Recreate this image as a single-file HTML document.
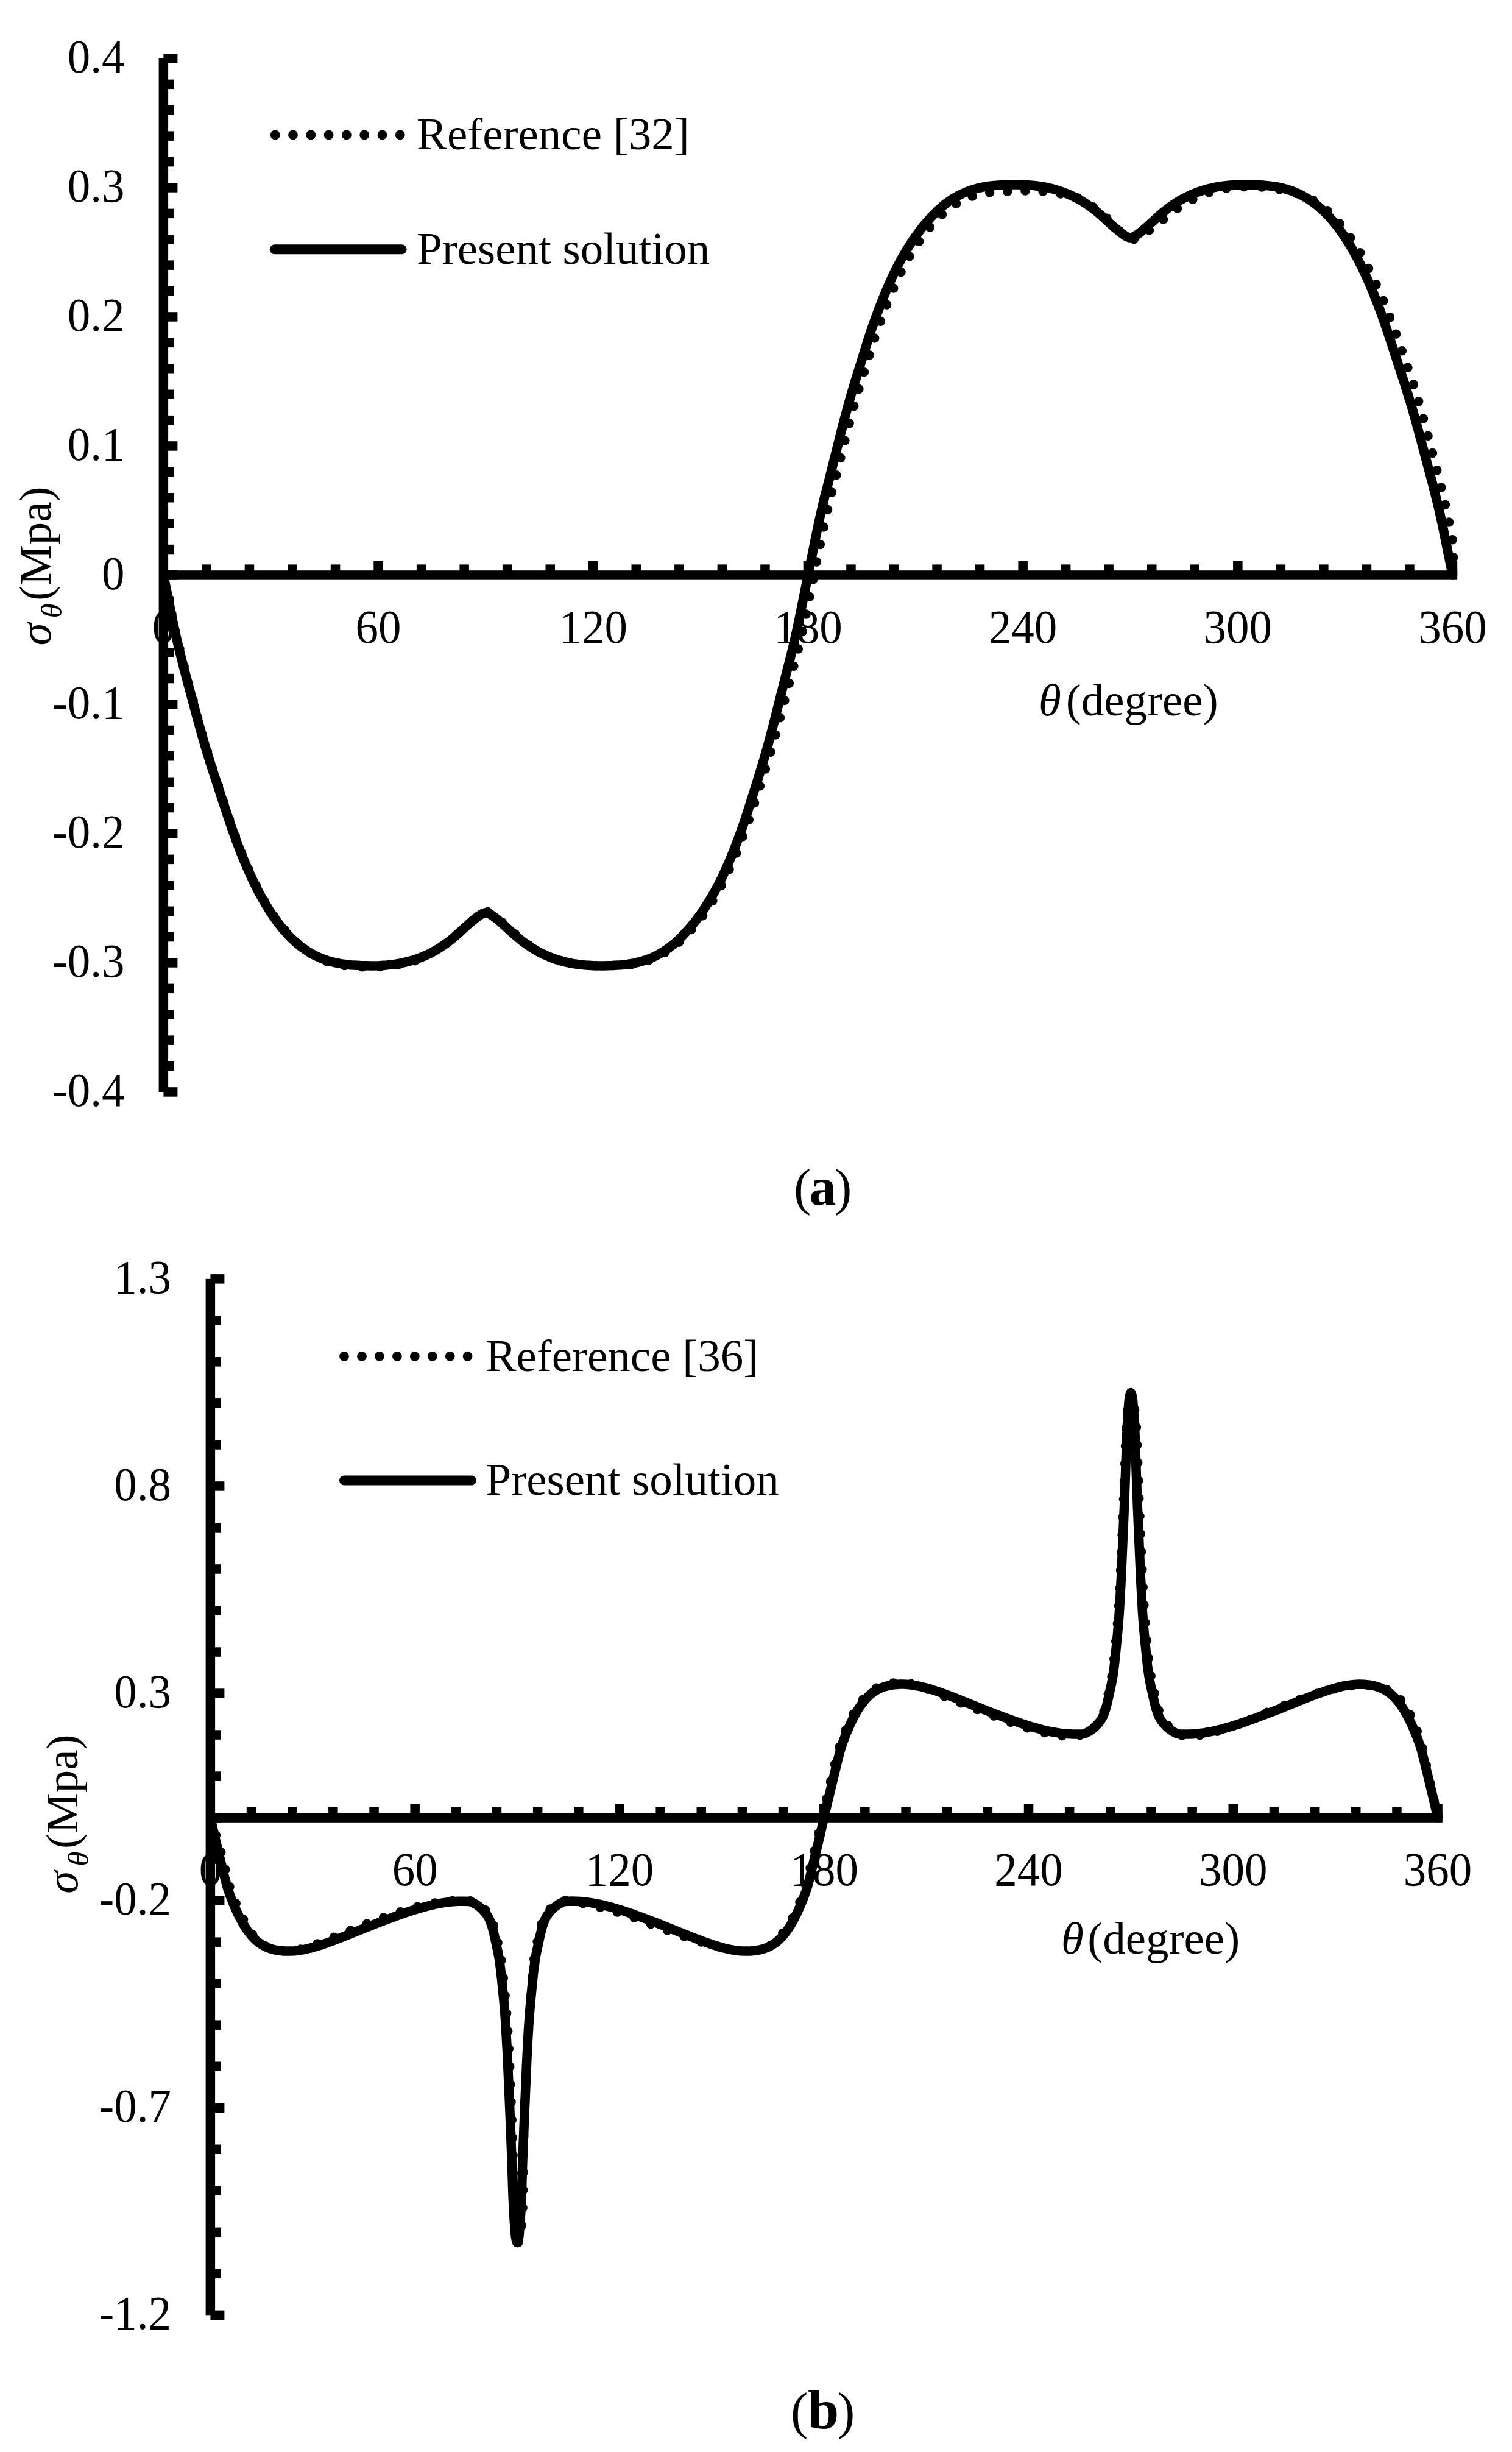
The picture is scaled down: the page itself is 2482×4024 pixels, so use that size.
<!DOCTYPE html>
<html lang="en"><head><meta charset="utf-8"><title>Hoop stress comparison</title>
<style>html,body{margin:0;padding:0;background:#fff}svg{display:block}text{font-family:"Liberation Serif", "DejaVu Serif", serif;font-size:75px;fill:#000}</style></head><body>
<svg width="2482" height="4024" viewBox="0 0 2482 4024">
<rect width="2482" height="4024" fill="#fff"/>
<text transform="translate(204.5 119.0) scale(1 1.045)" text-anchor="end">0.4</text>
<text transform="translate(204.5 331.0) scale(1 1.045)" text-anchor="end">0.3</text>
<text transform="translate(204.5 543.0) scale(1 1.045)" text-anchor="end">0.2</text>
<text transform="translate(204.5 755.0) scale(1 1.045)" text-anchor="end">0.1</text>
<text transform="translate(204.5 967.0) scale(1 1.045)" text-anchor="end">0</text>
<text transform="translate(204.5 1179.0) scale(1 1.045)" text-anchor="end">-0.1</text>
<text transform="translate(204.5 1391.0) scale(1 1.045)" text-anchor="end">-0.2</text>
<text transform="translate(204.5 1603.0) scale(1 1.045)" text-anchor="end">-0.3</text>
<text transform="translate(204.5 1815.0) scale(1 1.045)" text-anchor="end">-0.4</text>
<text transform="translate(268.4 1054.5) scale(1 1.045)" text-anchor="middle">0</text>
<text transform="translate(621.1 1054.5) scale(1 1.045)" text-anchor="middle">60</text>
<text transform="translate(973.8 1054.5) scale(1 1.045)" text-anchor="middle">120</text>
<text transform="translate(1326.4 1054.5) scale(1 1.045)" text-anchor="middle">180</text>
<text transform="translate(1679.1 1054.5) scale(1 1.045)" text-anchor="middle">240</text>
<text transform="translate(2031.8 1054.5) scale(1 1.045)" text-anchor="middle">300</text>
<text transform="translate(2384.5 1054.5) scale(1 1.045)" text-anchor="middle">360</text>
<text transform="translate(82.5 1059.5) rotate(-90)"><tspan font-style="italic">σ</tspan><tspan font-style="italic" font-size="49" dx="8" dy="18">θ</tspan><tspan dx="4.6" dy="-18">(Mpa)</tspan></text>
<text x="1705.0" y="1174.0"><tspan font-style="italic">θ</tspan><tspan dx="8.0">(degree)</tspan></text>
<g fill="#000">
<rect x="260.6" y="96.0" width="15.5" height="1696.0"/>
<rect x="268.4" y="936.2" width="2123.8" height="15.5"/>
<rect x="268.4" y="88.2" width="23.0" height="15.5"/>
<rect x="268.4" y="130.6" width="17.6" height="15.5"/>
<rect x="268.4" y="173.0" width="17.6" height="15.5"/>
<rect x="268.4" y="215.4" width="17.6" height="15.5"/>
<rect x="268.4" y="257.9" width="17.6" height="15.5"/>
<rect x="268.4" y="300.2" width="23.0" height="15.5"/>
<rect x="268.4" y="342.6" width="17.6" height="15.5"/>
<rect x="268.4" y="385.0" width="17.6" height="15.5"/>
<rect x="268.4" y="427.4" width="17.6" height="15.5"/>
<rect x="268.4" y="469.8" width="17.6" height="15.5"/>
<rect x="268.4" y="512.2" width="23.0" height="15.5"/>
<rect x="268.4" y="554.6" width="17.6" height="15.5"/>
<rect x="268.4" y="597.0" width="17.6" height="15.5"/>
<rect x="268.4" y="639.5" width="17.6" height="15.5"/>
<rect x="268.4" y="681.9" width="17.6" height="15.5"/>
<rect x="268.4" y="724.2" width="23.0" height="15.5"/>
<rect x="268.4" y="766.6" width="17.6" height="15.5"/>
<rect x="268.4" y="809.0" width="17.6" height="15.5"/>
<rect x="268.4" y="851.4" width="17.6" height="15.5"/>
<rect x="268.4" y="893.8" width="17.6" height="15.5"/>
<rect x="268.4" y="936.2" width="23.0" height="15.5"/>
<rect x="268.4" y="978.6" width="17.6" height="15.5"/>
<rect x="268.4" y="1021.0" width="17.6" height="15.5"/>
<rect x="268.4" y="1063.5" width="17.6" height="15.5"/>
<rect x="268.4" y="1105.8" width="17.6" height="15.5"/>
<rect x="268.4" y="1148.2" width="23.0" height="15.5"/>
<rect x="268.4" y="1190.7" width="17.6" height="15.5"/>
<rect x="268.4" y="1233.0" width="17.6" height="15.5"/>
<rect x="268.4" y="1275.5" width="17.6" height="15.5"/>
<rect x="268.4" y="1317.8" width="17.6" height="15.5"/>
<rect x="268.4" y="1360.2" width="23.0" height="15.5"/>
<rect x="268.4" y="1402.6" width="17.6" height="15.5"/>
<rect x="268.4" y="1445.0" width="17.6" height="15.5"/>
<rect x="268.4" y="1487.5" width="17.6" height="15.5"/>
<rect x="268.4" y="1529.8" width="17.6" height="15.5"/>
<rect x="268.4" y="1572.2" width="23.0" height="15.5"/>
<rect x="268.4" y="1614.6" width="17.6" height="15.5"/>
<rect x="268.4" y="1657.0" width="17.6" height="15.5"/>
<rect x="268.4" y="1699.4" width="17.6" height="15.5"/>
<rect x="268.4" y="1741.8" width="17.6" height="15.5"/>
<rect x="268.4" y="1784.2" width="23.0" height="15.5"/>
<rect x="331.2" y="926.4" width="15.5" height="17.6"/>
<rect x="401.7" y="926.4" width="15.5" height="17.6"/>
<rect x="472.3" y="926.4" width="15.5" height="17.6"/>
<rect x="542.8" y="926.4" width="15.5" height="17.6"/>
<rect x="613.3" y="921.0" width="15.5" height="23.0"/>
<rect x="683.9" y="926.4" width="15.5" height="17.6"/>
<rect x="754.4" y="926.4" width="15.5" height="17.6"/>
<rect x="824.9" y="926.4" width="15.5" height="17.6"/>
<rect x="895.5" y="926.4" width="15.5" height="17.6"/>
<rect x="966.0" y="921.0" width="15.5" height="23.0"/>
<rect x="1036.5" y="926.4" width="15.5" height="17.6"/>
<rect x="1107.1" y="926.4" width="15.5" height="17.6"/>
<rect x="1177.6" y="926.4" width="15.5" height="17.6"/>
<rect x="1248.2" y="926.4" width="15.5" height="17.6"/>
<rect x="1318.7" y="921.0" width="15.5" height="23.0"/>
<rect x="1389.2" y="926.4" width="15.5" height="17.6"/>
<rect x="1459.8" y="926.4" width="15.5" height="17.6"/>
<rect x="1530.3" y="926.4" width="15.5" height="17.6"/>
<rect x="1600.8" y="926.4" width="15.5" height="17.6"/>
<rect x="1671.4" y="921.0" width="15.5" height="23.0"/>
<rect x="1741.9" y="926.4" width="15.5" height="17.6"/>
<rect x="1812.4" y="926.4" width="15.5" height="17.6"/>
<rect x="1883.0" y="926.4" width="15.5" height="17.6"/>
<rect x="1953.5" y="926.4" width="15.5" height="17.6"/>
<rect x="2024.1" y="921.0" width="15.5" height="23.0"/>
<rect x="2094.6" y="926.4" width="15.5" height="17.6"/>
<rect x="2165.1" y="926.4" width="15.5" height="17.6"/>
<rect x="2235.7" y="926.4" width="15.5" height="17.6"/>
<rect x="2306.2" y="926.4" width="15.5" height="17.6"/>
<rect x="2376.7" y="921.0" width="15.5" height="23.0"/>
</g>
<path d="M2384.5 944 L2385.7 915 L2384 883.3 L2376 844.5 L2368.9 813.1 L2360.5 778.6 L2347.8 729.1 L2336.9 688.3 L2328.2 657.2 L2320.9 633.1 L2315 614.7 L2291.5 548 L2283.6 526.2 L2276.5 507.6 L2269.4 490.1 L2262.2 473.6 L2255.1 458 L2248 443.4 L2240.9 429.7 L2233 415.6 L2225.9 403.8 L2217.9 391.7 L2210 380.6 L2202.2 370.4 L2194.3 361.2 L2185.6 352 L2177.7 344.6 L2169.1 337.3 L2165.2 334.3 L2161.9 332.2 L2153.7 327.7 L2144.8 323.6 L2133 319.1 L2126.2 316.7 L2118.6 314.6 L2094.5 309.5 L2085.1 308.1 L2075.6 307.2 L2064.7 306.5 L2056 306.3 L2042.1 306.5 L2029.8 307.1 L2019.6 308.1 L2010.3 309.5 L2003.2 310.9 L1996.1 312.6 L1989 314.5 L1982.7 316.5 L1975.8 319.1 L1968.9 322 L1962.1 325.2 L1955.9 328.4 L1938.7 338.3 L1933.1 341.8 L1927.5 345.6 L1919.1 352 L1908.4 360.9 L1895.9 370.6 L1884.1 379.5 L1876 385.2 L1869.5 389.1 L1864.3 391.6 L1860.6 392.8 L1857 393.2 L1854.7 392.9 L1852.9 392.3 L1851.3 391.4 L1848.3 389.3 L1835.1 376.5 L1822.2 362.7 L1807.3 349.6 L1796 340.7 L1785.4 333.4 L1775.6 327.5 L1770.1 325.3 L1761.2 322.6 L1738.8 317.5 L1732.1 316.2 L1725.5 315.3 L1716 314.3 L1700.9 313.4 L1685.9 313 L1675.2 313.3 L1661.6 314 L1642.3 314.4 L1634.5 314.9 L1626.8 315.6 L1617.7 316.8 L1608.8 318.5 L1600.5 320.6 L1593 323 L1587.5 325.1 L1582.7 327.2 L1577.2 329.9 L1572.4 332.6 L1567.6 335.5 L1562.8 338.7 L1557.9 342.2 L1553 346.1 L1544.6 353.5 L1536.2 362 L1524.8 374.9 L1514.8 387.5 L1505.5 400.7 L1496.9 414.2 L1488.3 429.1 L1479.6 445.3 L1473.2 458.6 L1465.2 476.5 L1457.2 495.8 L1450 514.6 L1442.7 534.7 L1435.4 555.9 L1413.4 626.6 L1403.2 661.2 L1398.1 679.8 L1392.2 702.2 L1370.9 787 L1363.6 815.3 L1355.5 849.1 L1349.7 876.6 L1321 1018.8 L1318.1 1032.9 L1314.2 1049.5 L1307.2 1077.2 L1299.5 1105.5 L1278 1187.2 L1269.6 1218 L1262.7 1241.7 L1254.3 1268.6 L1232.3 1336.9 L1224.7 1358.4 L1218.6 1374.7 L1211 1394 L1204.3 1410.4 L1197.5 1425.8 L1190 1441.9 L1183.9 1453.6 L1177.9 1464.6 L1170.4 1477.5 L1162.8 1489.5 L1155.3 1500.5 L1148.4 1509.7 L1140.8 1519.1 L1132.4 1528.6 L1121.8 1539.6 L1117.3 1543.9 L1111.9 1548.6 L1102.8 1555.9 L1093.6 1562.1 L1083.8 1567.8 L1074.7 1572.1 L1064.8 1575.9 L1055.1 1578.9 L1044.6 1581.3 L1033.4 1583 L1023.1 1584 L1012 1584.5 L988.5 1585 L973 1584.7 L961.3 1584 L949.5 1582.8 L938.5 1581 L928.2 1578.9 L917.9 1576.1 L908.4 1572.9 L898.8 1569.2 L889.3 1564.7 L883.4 1561.6 L877 1557.5 L869.9 1552.5 L862.8 1547.1 L847.6 1534.6 L822.2 1511.7 L813.7 1504.6 L807.8 1500.1 L804.5 1498 L801.6 1496.7 L798.5 1496 L795.7 1496.1 L793.6 1496.6 L791.4 1497.4 L790 1498.2 L787.1 1500.3 L781.6 1505.2 L773.9 1512.6 L749.7 1534.4 L741.6 1541.3 L733.5 1547.6 L726.1 1552.7 L718.1 1557.9 L702.8 1566.6 L694.2 1571.1 L684.8 1575.3 L678.2 1577.8 L667.8 1580.6 L657.5 1582.9 L646.3 1584.6 L634.5 1585.9 L622.6 1586.7 L609.3 1587 L590.9 1586.6 L575.3 1585.7 L562 1584.1 L549.4 1581.7 L538.2 1578.7 L533.7 1577.3 L530.1 1575.8 L525 1573.4 L519.2 1570.3 L509.2 1564.2 L497 1555.5 L492 1551.4 L487 1547 L482 1542.2 L476.3 1536.4 L469.7 1529.3 L464.6 1523.4 L459.5 1517 L454.4 1510.2 L444.8 1496.5 L435.3 1481 L425.8 1463.9 L416.3 1444.9 L406.7 1424.1 L397.2 1401.2 L388.4 1378.2 L381 1357.7 L373.7 1335.9 L349.4 1262 L339.9 1231.6 L333.3 1209 L325.2 1179.9 L305.4 1105.9 L296.6 1071.8 L291.4 1050.4 L286.2 1027.3 L268.4 944" fill="none" stroke="#000" stroke-width="15.5" stroke-linecap="round" stroke-linejoin="round" stroke-dasharray="0 29.2"/>
<path d="M268.4 944 L284.6 1024 L289 1044.2 L294.1 1066.1 L302.9 1100.6 L323.5 1177.4 L331.6 1206.7 L338.9 1231.9 L348.5 1262.3 L372.7 1336.2 L380.8 1360.1 L388.2 1380.6 L397 1403.4 L406.5 1426.1 L416.1 1446.9 L425.6 1465.7 L434.5 1481.5 L444 1497 L453.6 1510.8 L463.1 1523.1 L472.7 1534 L477.8 1539.3 L482.9 1544.1 L488.1 1548.7 L493.2 1552.9 L498.4 1556.7 L504.3 1560.7 L509.4 1563.9 L514.5 1566.8 L519.7 1569.4 L525.6 1572 L531.4 1574.3 L537.3 1576.4 L543.2 1578.1 L549.1 1579.6 L561.6 1582 L575.5 1583.7 L591 1584.6 L609.3 1585 L622.5 1584.7 L635 1583.9 L646.8 1582.6 L658.6 1580.6 L669.6 1578.1 L680.6 1575 L690.9 1571.3 L701.2 1566.9 L709.2 1562.9 L716.6 1558.8 L724.7 1553.7 L732 1548.6 L739.4 1543.1 L746 1537.6 L770.2 1515.8 L779.5 1508 L785.4 1503.5 L789.8 1500.6 L793 1498.9 L796 1498.1 L798.9 1498.1 L801.2 1498.7 L804.5 1500.2 L808.4 1502.8 L814.8 1507.5 L820.9 1512.6 L846.6 1535.7 L852.5 1540.7 L858.4 1545.4 L866.5 1551.2 L874.6 1556.5 L882.7 1561.3 L890.7 1565.5 L900.3 1569.8 L909.8 1573.5 L919.4 1576.5 L929.7 1579.2 L940 1581.3 L951 1582.9 L962 1584.1 L974.5 1584.8 L989.9 1584.9 L1005.4 1584.6 L1018.6 1583.8 L1030.3 1582.5 L1041.4 1580.6 L1051.6 1578.1 L1061.9 1574.9 L1071.5 1571.1 L1081 1566.4 L1089.9 1561.2 L1098.7 1555.1 L1107.5 1548.1 L1115.6 1540.7 L1122.9 1533.2 L1133.9 1520.9 L1142.8 1510 L1150.1 1500.1 L1157.4 1489.2 L1164.8 1477.5 L1172.1 1464.9 L1178.8 1452.7 L1185.4 1439.7 L1192 1425.3 L1197.9 1411.8 L1205.2 1393.9 L1211.8 1376.7 L1218.4 1358.5 L1225 1339.3 L1245.6 1273.7 L1253 1249.6 L1260.3 1224.1 L1268.4 1193.8 L1291.2 1103.4 L1297.8 1077.9 L1302.9 1056.9 L1307.3 1037.7 L1311 1020.5 L1340.4 874.7 L1346.3 847 L1353.6 815.9 L1361.7 784.6 L1381.5 705.6 L1388.2 680.1 L1393.3 661.2 L1397.7 645.8 L1403.6 626.2 L1426.4 553 L1433.7 531.6 L1441.1 511.3 L1448.4 492.3 L1456.5 472.7 L1465.3 453 L1471.9 439.6 L1480.7 423.1 L1490.3 406.9 L1499.1 393.3 L1508.7 379.9 L1518.2 367.9 L1530 354.8 L1538.8 345.9 L1548.3 337.5 L1553.5 333.5 L1558.6 329.8 L1563.8 326.4 L1568.9 323.3 L1574.1 320.5 L1579.2 318 L1584.3 315.7 L1590.2 313.4 L1597.6 310.9 L1604.9 308.9 L1613 307.1 L1621.1 305.8 L1629.9 304.7 L1638.7 303.9 L1648.3 303.4 L1660 303.1 L1670.3 303.1 L1680.6 303.3 L1690.9 303.9 L1699.7 304.8 L1708.5 306 L1717.3 307.5 L1725.4 309.3 L1733.5 311.5 L1746 315.6 L1757.7 320.5 L1769.5 326.3 L1775.4 329.7 L1781.3 333.3 L1791.5 340.4 L1801.1 347.9 L1809.2 354.9 L1829.6 373.4 L1839.6 381.6 L1845.5 385.9 L1849 388.1 L1852.2 389.5 L1855.2 390 L1857.8 389.8 L1861 388.6 L1864.9 386.3 L1869.9 382.8 L1874.9 378.9 L1880.4 374.2 L1902.5 354.2 L1912.8 345.5 L1918.6 341 L1924.5 336.8 L1930.4 332.9 L1937 328.8 L1944.4 324.8 L1951.7 321.1 L1959.1 317.9 L1966.4 315.1 L1973.8 312.6 L1981.8 310.2 L1989.9 308.3 L1998 306.7 L2008.3 305.1 L2019.3 304 L2031.1 303.3 L2043.6 303 L2059 303.3 L2072.9 304 L2084.7 305.1 L2095.7 306.7 L2105.3 308.7 L2114.1 311.2 L2122.2 313.9 L2130.3 317.3 L2138.3 321.2 L2145.7 325.4 L2153.8 330.8 L2161.1 336.3 L2168.5 342.5 L2175.8 349.5 L2183.2 357.2 L2189.8 364.9 L2196.4 373.2 L2203 382.3 L2209.6 392.1 L2216.2 402.7 L2222.8 414.2 L2229.4 426.4 L2236.1 439.6 L2241.9 452 L2248.6 466.9 L2254.4 481 L2260.3 495.8 L2266.2 511.4 L2272.8 530 L2278.7 547.3 L2306.6 632.5 L2316.9 666 L2327.2 702.5 L2351.4 793 L2361 831.1 L2368.3 864 L2384.5 944" fill="none" stroke="#000" stroke-width="15.5" stroke-linejoin="round"/>
<g fill="#000">
<circle cx="451.7" cy="221.4" r="7.9"/>
<circle cx="481.0" cy="221.4" r="7.9"/>
<circle cx="510.3" cy="221.4" r="7.9"/>
<circle cx="539.6" cy="221.4" r="7.9"/>
<circle cx="568.9" cy="221.4" r="7.9"/>
<circle cx="598.2" cy="221.4" r="7.9"/>
<circle cx="627.5" cy="221.4" r="7.9"/>
<circle cx="656.8" cy="221.4" r="7.9"/>
</g>
<line x1="450.8" y1="409.3" x2="659.6" y2="409.3" stroke="#000" stroke-width="16" stroke-linecap="round"/>
<text x="684.0" y="245.2" text-anchor="start">Reference [32]</text>
<text x="684.0" y="433.1" text-anchor="start">Present solution</text>
<text y="1977.0"><tspan x="1303.1" font-size="85">(</tspan><tspan x="1328.5" font-size="88" font-weight="bold">a</tspan><tspan x="1369.9" font-size="85">)</tspan></text>
<text transform="translate(281.0 2121.8) scale(1 1.045)" text-anchor="end">1.3</text>
<text transform="translate(281.0 2461.9) scale(1 1.045)" text-anchor="end">0.8</text>
<text transform="translate(281.0 2802.0) scale(1 1.045)" text-anchor="end">0.3</text>
<text transform="translate(281.0 3142.1) scale(1 1.045)" text-anchor="end">-0.2</text>
<text transform="translate(281.0 3482.2) scale(1 1.045)" text-anchor="end">-0.7</text>
<text transform="translate(281.0 3822.3) scale(1 1.045)" text-anchor="end">-1.2</text>
<text transform="translate(345.4 3093.6) scale(1 1.045)" text-anchor="middle">0</text>
<text transform="translate(681.2 3093.6) scale(1 1.045)" text-anchor="middle">60</text>
<text transform="translate(1017.0 3093.6) scale(1 1.045)" text-anchor="middle">120</text>
<text transform="translate(1352.7 3093.6) scale(1 1.045)" text-anchor="middle">180</text>
<text transform="translate(1688.5 3093.6) scale(1 1.045)" text-anchor="middle">240</text>
<text transform="translate(2024.3 3093.6) scale(1 1.045)" text-anchor="middle">300</text>
<text transform="translate(2360.1 3093.6) scale(1 1.045)" text-anchor="middle">360</text>
<text transform="translate(126.7 3107.7) rotate(-90)"><tspan font-style="italic">σ</tspan><tspan font-style="italic" font-size="49" dx="8" dy="18">θ</tspan><tspan dx="4.6" dy="-18">(Mpa)</tspan></text>
<text x="1742.0" y="3205.5"><tspan font-style="italic">θ</tspan><tspan dx="6.5">(degree)</tspan></text>
<g fill="#000">
<rect x="337.6" y="2098.8" width="15.5" height="1700.5"/>
<rect x="345.4" y="2975.3" width="2022.4" height="15.5"/>
<rect x="345.4" y="2091.1" width="23.0" height="15.5"/>
<rect x="345.4" y="2159.1" width="17.6" height="15.5"/>
<rect x="345.4" y="2227.1" width="17.6" height="15.5"/>
<rect x="345.4" y="2295.1" width="17.6" height="15.5"/>
<rect x="345.4" y="2363.2" width="17.6" height="15.5"/>
<rect x="345.4" y="2431.2" width="23.0" height="15.5"/>
<rect x="345.4" y="2499.2" width="17.6" height="15.5"/>
<rect x="345.4" y="2567.2" width="17.6" height="15.5"/>
<rect x="345.4" y="2635.2" width="17.6" height="15.5"/>
<rect x="345.4" y="2703.3" width="17.6" height="15.5"/>
<rect x="345.4" y="2771.3" width="23.0" height="15.5"/>
<rect x="345.4" y="2839.3" width="17.6" height="15.5"/>
<rect x="345.4" y="2907.3" width="17.6" height="15.5"/>
<rect x="345.4" y="2975.3" width="17.6" height="15.5"/>
<rect x="345.4" y="3043.4" width="17.6" height="15.5"/>
<rect x="345.4" y="3111.4" width="23.0" height="15.5"/>
<rect x="345.4" y="3179.4" width="17.6" height="15.5"/>
<rect x="345.4" y="3247.4" width="17.6" height="15.5"/>
<rect x="345.4" y="3315.4" width="17.6" height="15.5"/>
<rect x="345.4" y="3383.5" width="17.6" height="15.5"/>
<rect x="345.4" y="3451.5" width="23.0" height="15.5"/>
<rect x="345.4" y="3519.5" width="17.6" height="15.5"/>
<rect x="345.4" y="3587.5" width="17.6" height="15.5"/>
<rect x="345.4" y="3655.6" width="17.6" height="15.5"/>
<rect x="345.4" y="3723.6" width="17.6" height="15.5"/>
<rect x="345.4" y="3791.6" width="23.0" height="15.5"/>
<rect x="404.8" y="2965.5" width="15.5" height="17.6"/>
<rect x="472.0" y="2965.5" width="15.5" height="17.6"/>
<rect x="539.1" y="2965.5" width="15.5" height="17.6"/>
<rect x="606.3" y="2965.5" width="15.5" height="17.6"/>
<rect x="673.4" y="2960.1" width="15.5" height="23.0"/>
<rect x="740.6" y="2965.5" width="15.5" height="17.6"/>
<rect x="807.7" y="2965.5" width="15.5" height="17.6"/>
<rect x="874.9" y="2965.5" width="15.5" height="17.6"/>
<rect x="942.1" y="2965.5" width="15.5" height="17.6"/>
<rect x="1009.2" y="2960.1" width="15.5" height="23.0"/>
<rect x="1076.4" y="2965.5" width="15.5" height="17.6"/>
<rect x="1143.5" y="2965.5" width="15.5" height="17.6"/>
<rect x="1210.7" y="2965.5" width="15.5" height="17.6"/>
<rect x="1277.8" y="2965.5" width="15.5" height="17.6"/>
<rect x="1345.0" y="2960.1" width="15.5" height="23.0"/>
<rect x="1412.1" y="2965.5" width="15.5" height="17.6"/>
<rect x="1479.3" y="2965.5" width="15.5" height="17.6"/>
<rect x="1546.5" y="2965.5" width="15.5" height="17.6"/>
<rect x="1613.6" y="2965.5" width="15.5" height="17.6"/>
<rect x="1680.8" y="2960.1" width="15.5" height="23.0"/>
<rect x="1747.9" y="2965.5" width="15.5" height="17.6"/>
<rect x="1815.1" y="2965.5" width="15.5" height="17.6"/>
<rect x="1882.2" y="2965.5" width="15.5" height="17.6"/>
<rect x="1949.4" y="2965.5" width="15.5" height="17.6"/>
<rect x="2016.5" y="2960.1" width="15.5" height="23.0"/>
<rect x="2083.7" y="2965.5" width="15.5" height="17.6"/>
<rect x="2150.9" y="2965.5" width="15.5" height="17.6"/>
<rect x="2218.0" y="2965.5" width="15.5" height="17.6"/>
<rect x="2285.2" y="2965.5" width="15.5" height="17.6"/>
<rect x="2352.3" y="2960.1" width="15.5" height="23.0"/>
</g>
<path d="M2360.1 2983.1 L2354.1 2955.3 L2345 2915 L2339.4 2888.4 L2335.2 2869.6 L2332.7 2860.6 L2329.1 2848.9 L2321.7 2828.5 L2319.7 2823.8 L2317 2817.9 L2311.2 2807.2 L2305.5 2798 L2302.5 2793.8 L2298.9 2789.1 L2293.7 2783.2 L2291.4 2781 L2289 2779.1 L2286.5 2777.5 L2283.1 2775.6 L2279 2773.7 L2275.7 2772.4 L2264.4 2768.7 L2260.1 2767.7 L2255.1 2766.8 L2250.1 2766.3 L2245.2 2766 L2230 2765.9 L2219.6 2766.4 L2209.2 2767.6 L2199.4 2769.5 L2184.7 2772.9 L2174.7 2775.5 L2163.3 2778.9 L2150.5 2783.1 L2136.2 2788 L2079.5 2810.5 L2047.8 2823.5 L2034.7 2828.5 L2012.6 2836.6 L2000.9 2840.5 L1989.8 2843.8 L1980.7 2846 L1973.6 2847.2 L1960.1 2848.6 L1953 2849 L1948.1 2849 L1943.1 2848.5 L1933.9 2846.4 L1931.8 2845.4 L1929.8 2844.1 L1925.4 2840.7 L1923 2838.4 L1918.9 2834 L1909.6 2822.5 L1907.6 2819.5 L1905.7 2816 L1903.6 2811.2 L1900.9 2803.3 L1898.1 2792.9 L1891.5 2762.9 L1889.3 2751 L1887.3 2737.2 L1885.3 2719.8 L1882.6 2693.3 L1880.5 2670.5 L1878.8 2649 L1877.4 2626.6 L1875.6 2592.4 L1870.4 2473.1 L1868.4 2421.8 L1866.4 2361.5 L1865.7 2345.8 L1864 2323.9 L1861.6 2304.8 L1860.1 2295.8 L1859.6 2294.1 L1857.3 2286.8 L1856.7 2285.8 L1856.4 2285.6 L1856.1 2285.8 L1855.7 2286.5 L1854.9 2288.7 L1853.4 2294.2 L1852.6 2298.3 L1851.7 2304.8 L1850.9 2312 L1849.6 2328.3 L1847.9 2361.5 L1845.9 2421.8 L1842.9 2500.6 L1839.2 2583.5 L1837.8 2611.4 L1836 2642.9 L1834.2 2667.3 L1831.8 2693.4 L1828 2730.3 L1825.8 2747.7 L1823.6 2760.5 L1816.5 2793.4 L1814.4 2801.4 L1813 2806 L1811 2811.8 L1809 2816.8 L1807.7 2819.5 L1805.8 2822.8 L1803.2 2826.6 L1800.6 2829.9 L1797.3 2833.7 L1794 2836.9 L1788.7 2841.2 L1783.9 2844.2 L1781.1 2845.7 L1778.2 2846.6 L1769.7 2847.8 L1757.6 2848.7 L1750.5 2848.9 L1744.8 2848.8 L1734.8 2847.6 L1722 2845.2 L1707.1 2841.8 L1691.6 2837.4 L1673.9 2831.7 L1653.6 2824.5 L1618.5 2811.2 L1554.2 2785.5 L1538 2778.2 L1526.5 2773.4 L1514.9 2769.1 L1504.6 2765.8 L1497 2763.8 L1490 2762.3 L1483.6 2761.3 L1479.3 2761.1 L1472.1 2761.3 L1463.5 2762.3 L1456.3 2763.7 L1449 2765.8 L1444.6 2767.5 L1440.2 2769.5 L1435.8 2772 L1432.1 2774.4 L1427.8 2777.7 L1424.1 2781 L1420.5 2784.6 L1416.9 2788.6 L1413.3 2793.1 L1409.7 2798 L1403.3 2808.2 L1396.9 2820.2 L1389.9 2835.6 L1384.9 2847.3 L1380.7 2858.6 L1377.8 2867.1 L1375 2877.1 L1371.5 2890.9 L1356.1 2954.7 L1344.2 3007.2 L1328.1 3073.8 L1323.3 3092.6 L1319.8 3103.7 L1314.3 3118.4 L1307.3 3134.5 L1301.1 3147.4 L1294.9 3158.4 L1291.5 3163.8 L1288.1 3168.6 L1278.9 3179.9 L1275.2 3184 L1272 3187 L1268.8 3189.7 L1264.9 3192.5 L1258.9 3196.1 L1256.2 3197.3 L1253.4 3198.2 L1249.2 3199.4 L1244.3 3200.4 L1239.4 3201.2 L1234.5 3201.8 L1230.3 3202.1 L1224 3202.1 L1215.6 3201.8 L1205.8 3200.6 L1194.6 3198.5 L1175.6 3194 L1166.3 3191.5 L1153.4 3187.7 L1138.4 3182.9 L1099.1 3169.4 L1066.9 3156.9 L1041.2 3147.4 L1025.2 3141.8 L1011.3 3137.4 L999.6 3134.1 L968.9 3125.9 L959.3 3124 L949.7 3122.3 L938.6 3120.1 L932.3 3119.2 L927.2 3118.7 L924.7 3119.1 L921.6 3120.2 L914.9 3123.6 L909.7 3127.1 L906 3130.3 L900.8 3135.4 L897 3140 L894.1 3144.7 L892 3149.3 L888.5 3158.9 L886.5 3166.3 L884.5 3175 L877.8 3207.9 L875.9 3219.9 L874.7 3230.7 L871.8 3274.1 L868.9 3309.3 L867.3 3334.6 L865.2 3373.7 L861.9 3445.5 L860 3493 L859.4 3514.4 L859 3536.7 L859.1 3544.4 L858.8 3596.8 L858.3 3620.4 L857.7 3633.3 L856.3 3654.3 L854.8 3670.7 L853.9 3674.7 L852 3679.1 L851.4 3679.9 L851 3680.3 L849.9 3681 L849.1 3681.1 L848.6 3680.7 L848.3 3680.1 L847.4 3676.3 L846.3 3670.3 L844.9 3654.1 L843.9 3637.8 L843.3 3623 L842.1 3536.6 L841 3500 L839.7 3465.4 L836.6 3388.7 L835 3354.5 L833 3320.9 L830.5 3288.8 L827.1 3254 L824.8 3231.7 L822.9 3217.9 L820.7 3204.8 L813.5 3171.8 L810.7 3161.1 L807.8 3152.8 L805.6 3147.5 L803.4 3143.3 L801.1 3140 L798.2 3136.2 L795.2 3133 L792.2 3130.2 L788.3 3127.3 L784.5 3124.8 L781.4 3123.2 L775.5 3120.6 L772.4 3119.7 L760.2 3119 L747.6 3119.1 L731.3 3120.4 L717.8 3122.2 L709.3 3123.7 L700.8 3125.4 L691.5 3127.6 L681.6 3130.2 L662.4 3136 L638.3 3144 L620.6 3150.2 L586.8 3163.3 L567.9 3170.8 L547.2 3179.7 L532.9 3185.4 L510.5 3193.9 L503.7 3196.2 L496.9 3198.2 L489.4 3200.1 L482.5 3201.5 L478.3 3202 L474.1 3202 L466.4 3201.7 L458.8 3200.9 L451.1 3199.4 L444.2 3197.4 L440.1 3195.9 L436.7 3194.3 L433.2 3192.5 L429.1 3190 L426.4 3188.1 L423.8 3185.8 L418.7 3180.4 L413.2 3173.1 L408.4 3165.5 L399.3 3149.5 L392.4 3135.6 L387.6 3124.6 L383.4 3114.5 L379.9 3105.3 L377.2 3097 L375.1 3089.9 L371.7 3076.4 L364.7 3047.2 L361 3033 L358.5 3024.5 L350.1 2998.5 L345.7 2983" fill="none" stroke="#000" stroke-width="15.5" stroke-linecap="round" stroke-linejoin="round" stroke-dasharray="0 29.2"/>
<path d="M345.4 2983.1 L353.1 3016.7 L367.1 3074.5 L372 3093.5 L374.8 3102.6 L379 3114.2 L382.5 3122.9 L388.1 3135.8 L394.4 3148.8 L400 3158.8 L406.3 3168.5 L412.6 3176.5 L416.1 3180.3 L419.6 3183.7 L423 3186.7 L426.5 3189.3 L430 3191.6 L434.2 3194 L438.4 3196 L441.9 3197.3 L449.6 3199.6 L457.3 3201 L466.4 3202 L474.8 3202.1 L483.2 3201.7 L492.3 3200.6 L501.4 3199 L511.2 3196.6 L526.6 3192.1 L544.8 3185.7 L559.5 3180.1 L599.3 3164 L623.1 3154.6 L646.2 3145.9 L666.5 3138.7 L684 3133.1 L699.4 3128.7 L714.1 3125.2 L728 3122.6 L740.6 3121 L751.8 3120.2 L763 3120.2 L769.3 3120.5 L772.1 3120.8 L774.9 3121.8 L780.5 3124.8 L783.3 3126.6 L786.8 3129.2 L789.6 3131.6 L792.4 3134.3 L795.9 3138.2 L798.7 3141.7 L800.8 3144.9 L802.9 3148.8 L805 3153.8 L807.8 3161.9 L810.6 3172.5 L817.6 3204.7 L819.7 3216.5 L821.6 3230.9 L823.6 3248.8 L827 3282.9 L828.6 3302.2 L830 3321.1 L833.1 3376.6 L838.2 3493 L840.1 3544.3 L842.1 3604.6 L843.2 3628.2 L844.3 3646.3 L846 3667.9 L846.5 3671.9 L847.7 3677.5 L848.4 3679.7 L848.8 3680.4 L849.1 3680.6 L849.6 3680 L850.2 3678.5 L851.9 3670.3 L853.3 3654.1 L854.7 3633.1 L856.1 3604.6 L858 3544.3 L861 3468.9 L864.7 3382.6 L866.1 3354.7 L867.8 3325.4 L869.5 3302.2 L871.7 3277 L875.6 3238.2 L877.9 3220.2 L880.1 3206.8 L886.8 3175.6 L890.3 3161.9 L893.8 3152 L895.9 3147.4 L897.3 3144.9 L899.4 3141.7 L902.2 3138.2 L905.7 3134.3 L909.2 3130.9 L913.4 3127.6 L917.6 3124.8 L923.9 3121.5 L926 3120.8 L927.4 3120.6 L938.6 3120.1 L945.6 3120.2 L951.9 3120.5 L965.2 3121.9 L979.2 3124.2 L991.8 3126.9 L1005.8 3130.6 L1020.5 3135 L1036.5 3140.4 L1056.1 3147.5 L1077.8 3155.7 L1138.7 3180.1 L1152.7 3185.5 L1170.9 3191.9 L1186.2 3196.5 L1196 3198.8 L1205.8 3200.6 L1214.9 3201.7 L1223.3 3202.1 L1231.7 3202 L1240.1 3201.1 L1248.5 3199.6 L1255.5 3197.5 L1259.7 3196 L1263.9 3194 L1268.1 3191.6 L1272.3 3188.8 L1275.8 3186.1 L1280 3182.4 L1283.5 3178.8 L1287.7 3174 L1291.2 3169.4 L1294.7 3164.4 L1298.2 3158.8 L1301.7 3152.7 L1308 3140.3 L1315 3124.5 L1318.5 3116 L1322.7 3104.6 L1325.5 3095.9 L1328.3 3085.6 L1346.4 3010.8 L1358.3 2958.3 L1374.4 2891.7 L1379.3 2872.7 L1382.8 2861.6 L1388.4 2846.7 L1395.4 2830.4 L1401.7 2817.4 L1408 2806.2 L1414.3 2796.8 L1420.6 2788.9 L1424.1 2785.2 L1427.6 2781.9 L1431.1 2778.9 L1434.6 2776.4 L1438.1 2774.1 L1441.6 2772.2 L1445.8 2770.2 L1450 2768.7 L1454.2 2767.4 L1458.4 2766.3 L1463.3 2765.4 L1468.2 2764.7 L1477.3 2764.1 L1482.8 2764.1 L1488.4 2764.3 L1499.6 2765.6 L1510.8 2767.7 L1519.2 2769.7 L1528.3 2772.3 L1538.1 2775.5 L1548.6 2779.2 L1565.4 2785.6 L1608.1 2802.8 L1633.2 2812.6 L1657.7 2821.8 L1678.7 2829.1 L1696.2 2834.6 L1712.3 2839 L1727 2842.2 L1741 2844.4 L1751.5 2845.5 L1761.3 2846 L1767.6 2846.1 L1774.6 2845.9 L1778.1 2845.6 L1780.2 2845.2 L1782.9 2844 L1787.8 2841.4 L1790.6 2839.6 L1794.1 2837 L1796.9 2834.6 L1799.7 2831.9 L1803.2 2828 L1806 2824.5 L1808.1 2821.3 L1810.2 2817.4 L1812.3 2812.4 L1815.1 2804.3 L1817.9 2793.7 L1824.9 2761.5 L1827 2749.7 L1829 2735.3 L1830.9 2717.4 L1834.3 2683.3 L1836 2664 L1837.4 2645.1 L1840.5 2589.6 L1845.5 2473.2 L1847.4 2421.9 L1849.4 2361.6 L1850.5 2338 L1851.6 2319.9 L1853.3 2298.3 L1853.9 2294.3 L1855 2288.7 L1855.7 2286.5 L1856.1 2285.8 L1856.4 2285.6 L1856.7 2285.8 L1857.1 2286.5 L1857.8 2288.7 L1858.9 2294.3 L1859.5 2298.3 L1861.2 2319.9 L1862.3 2338 L1863.4 2361.6 L1865.4 2421.9 L1867.3 2473.2 L1872.4 2589.6 L1875.4 2645.1 L1876.8 2664 L1878.5 2683.3 L1881.9 2717.4 L1883.8 2735.3 L1885.8 2749.7 L1887.9 2761.5 L1894.9 2793.7 L1897.7 2804.3 L1900.5 2812.4 L1902.6 2817.4 L1904.7 2821.3 L1906.8 2824.5 L1909.6 2828 L1913.1 2831.9 L1915.9 2834.6 L1918.7 2837 L1922.2 2839.6 L1925 2841.4 L1930.6 2844.4 L1933.4 2845.4 L1936.1 2845.7 L1942.4 2846 L1953.6 2846 L1964.8 2845.2 L1977.4 2843.6 L1991.4 2841 L2006.1 2837.5 L2021.5 2833.1 L2039 2827.5 L2059.3 2820.3 L2082.4 2811.6 L2106.1 2802.2 L2146 2786.1 L2160.7 2780.5 L2178.9 2774.1 L2194.3 2769.6 L2204.1 2767.2 L2213.2 2765.6 L2222.3 2764.5 L2230.7 2764.1 L2239 2764.2 L2248.1 2765.2 L2255.8 2766.6 L2263.5 2768.9 L2267 2770.2 L2271.2 2772.2 L2275.4 2774.6 L2278.9 2776.9 L2282.4 2779.5 L2285.9 2782.5 L2289.4 2785.9 L2292.9 2789.7 L2299.2 2797.7 L2305.5 2807.4 L2311.1 2817.4 L2317.4 2830.4 L2323 2843.3 L2326.5 2852 L2330.7 2863.6 L2333.5 2872.7 L2338.4 2891.7 L2352.4 2949.5 L2360.1 2983.1" fill="none" stroke="#000" stroke-width="15.5" stroke-linejoin="round"/>
<g fill="#000">
<circle cx="565.0" cy="2225.8" r="7.9"/>
<circle cx="594.0" cy="2225.8" r="7.9"/>
<circle cx="622.9" cy="2225.8" r="7.9"/>
<circle cx="651.9" cy="2225.8" r="7.9"/>
<circle cx="680.8" cy="2225.8" r="7.9"/>
<circle cx="709.8" cy="2225.8" r="7.9"/>
<circle cx="738.7" cy="2225.8" r="7.9"/>
<circle cx="767.6" cy="2225.8" r="7.9"/>
</g>
<line x1="565.0" y1="2429.5" x2="773.9" y2="2429.5" stroke="#000" stroke-width="16" stroke-linecap="round"/>
<text x="797.5" y="2249.6" text-anchor="start">Reference [36]</text>
<text x="797.5" y="2453.3" text-anchor="start">Present solution</text>
<text y="3985.2"><tspan x="1298.0" font-size="85">(</tspan><tspan x="1326.0" font-size="92" font-weight="bold">b</tspan><tspan x="1374.9" font-size="85">)</tspan></text>
</svg></body></html>
